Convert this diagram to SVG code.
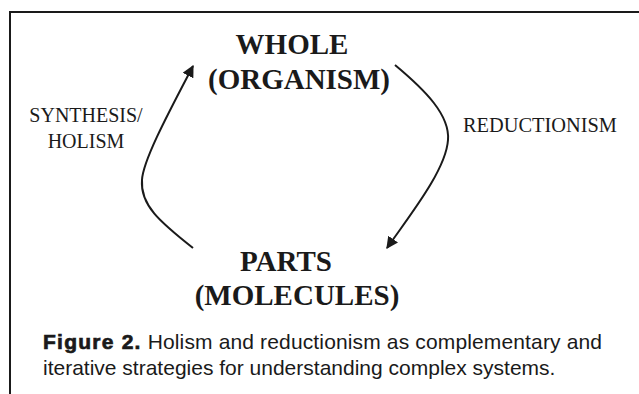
<svg xmlns="http://www.w3.org/2000/svg" width="639" height="394" viewBox="0 0 639 394">
<style>
.big{font-family:"Liberation Serif","Times New Roman",serif;font-weight:bold;font-size:29px;fill:#1a1a1a;text-anchor:middle}
.lbl{font-family:"Liberation Serif","Times New Roman",serif;font-size:20px;fill:#1a1a1a}
.cap{font-family:"Liberation Sans",Arial,sans-serif;font-size:21px;fill:#1a1a1a}
.fig{font-weight:900;stroke:#1a1a1a;stroke-width:0.7;letter-spacing:1.1px}
.conn{fill:none;stroke:#1a1a1a;stroke-width:2}
</style>
<defs>
<marker id="ah" viewBox="0 0 10 10" refX="9" refY="5" markerWidth="6" markerHeight="6" orient="auto" markerUnits="strokeWidth">
<path d="M0,0 L10,5 L0,10 z" fill="#1a1a1a"/>
</marker>
</defs>
<rect width="639" height="394" fill="#ffffff"/>
<path d="M10,394 L10,12 L639,12" fill="none" stroke="#1a1a1a" stroke-width="2"/>
<g id="whole">
<text class="big" x="292" y="54">WHOLE</text>
<text class="big" x="299" y="89">(ORGANISM)</text>
</g>
<g id="parts">
<text class="big" x="286" y="271">PARTS</text>
<text class="big" x="297" y="305">(MOLECULES)</text>
</g>
<g id="connectors">
<path class="conn" d="M193,248 C160,222 140,205 142,180 C143,160 170,110 193,66" marker-end="url(#ah)"/>
<path class="conn" d="M395,65 C425,90 450,115 448,140 C446,170 410,215 387,248" marker-end="url(#ah)"/>
</g>
<g id="labels">
<text class="lbl" x="86" y="122" text-anchor="middle">SYNTHESIS/</text>
<text class="lbl" x="86" y="148" text-anchor="middle">HOLISM</text>
<text class="lbl" x="463" y="132" textLength="154" lengthAdjust="spacingAndGlyphs">REDUCTIONISM</text>
</g>
<g id="caption">
<text class="cap" x="43" y="349" textLength="559"><tspan class="fig">Figure 2.</tspan> Holism and reductionism as complementary and</text>
<text class="cap" x="43" y="375">iterative strategies for understanding complex systems.</text>
</g>
</svg>
